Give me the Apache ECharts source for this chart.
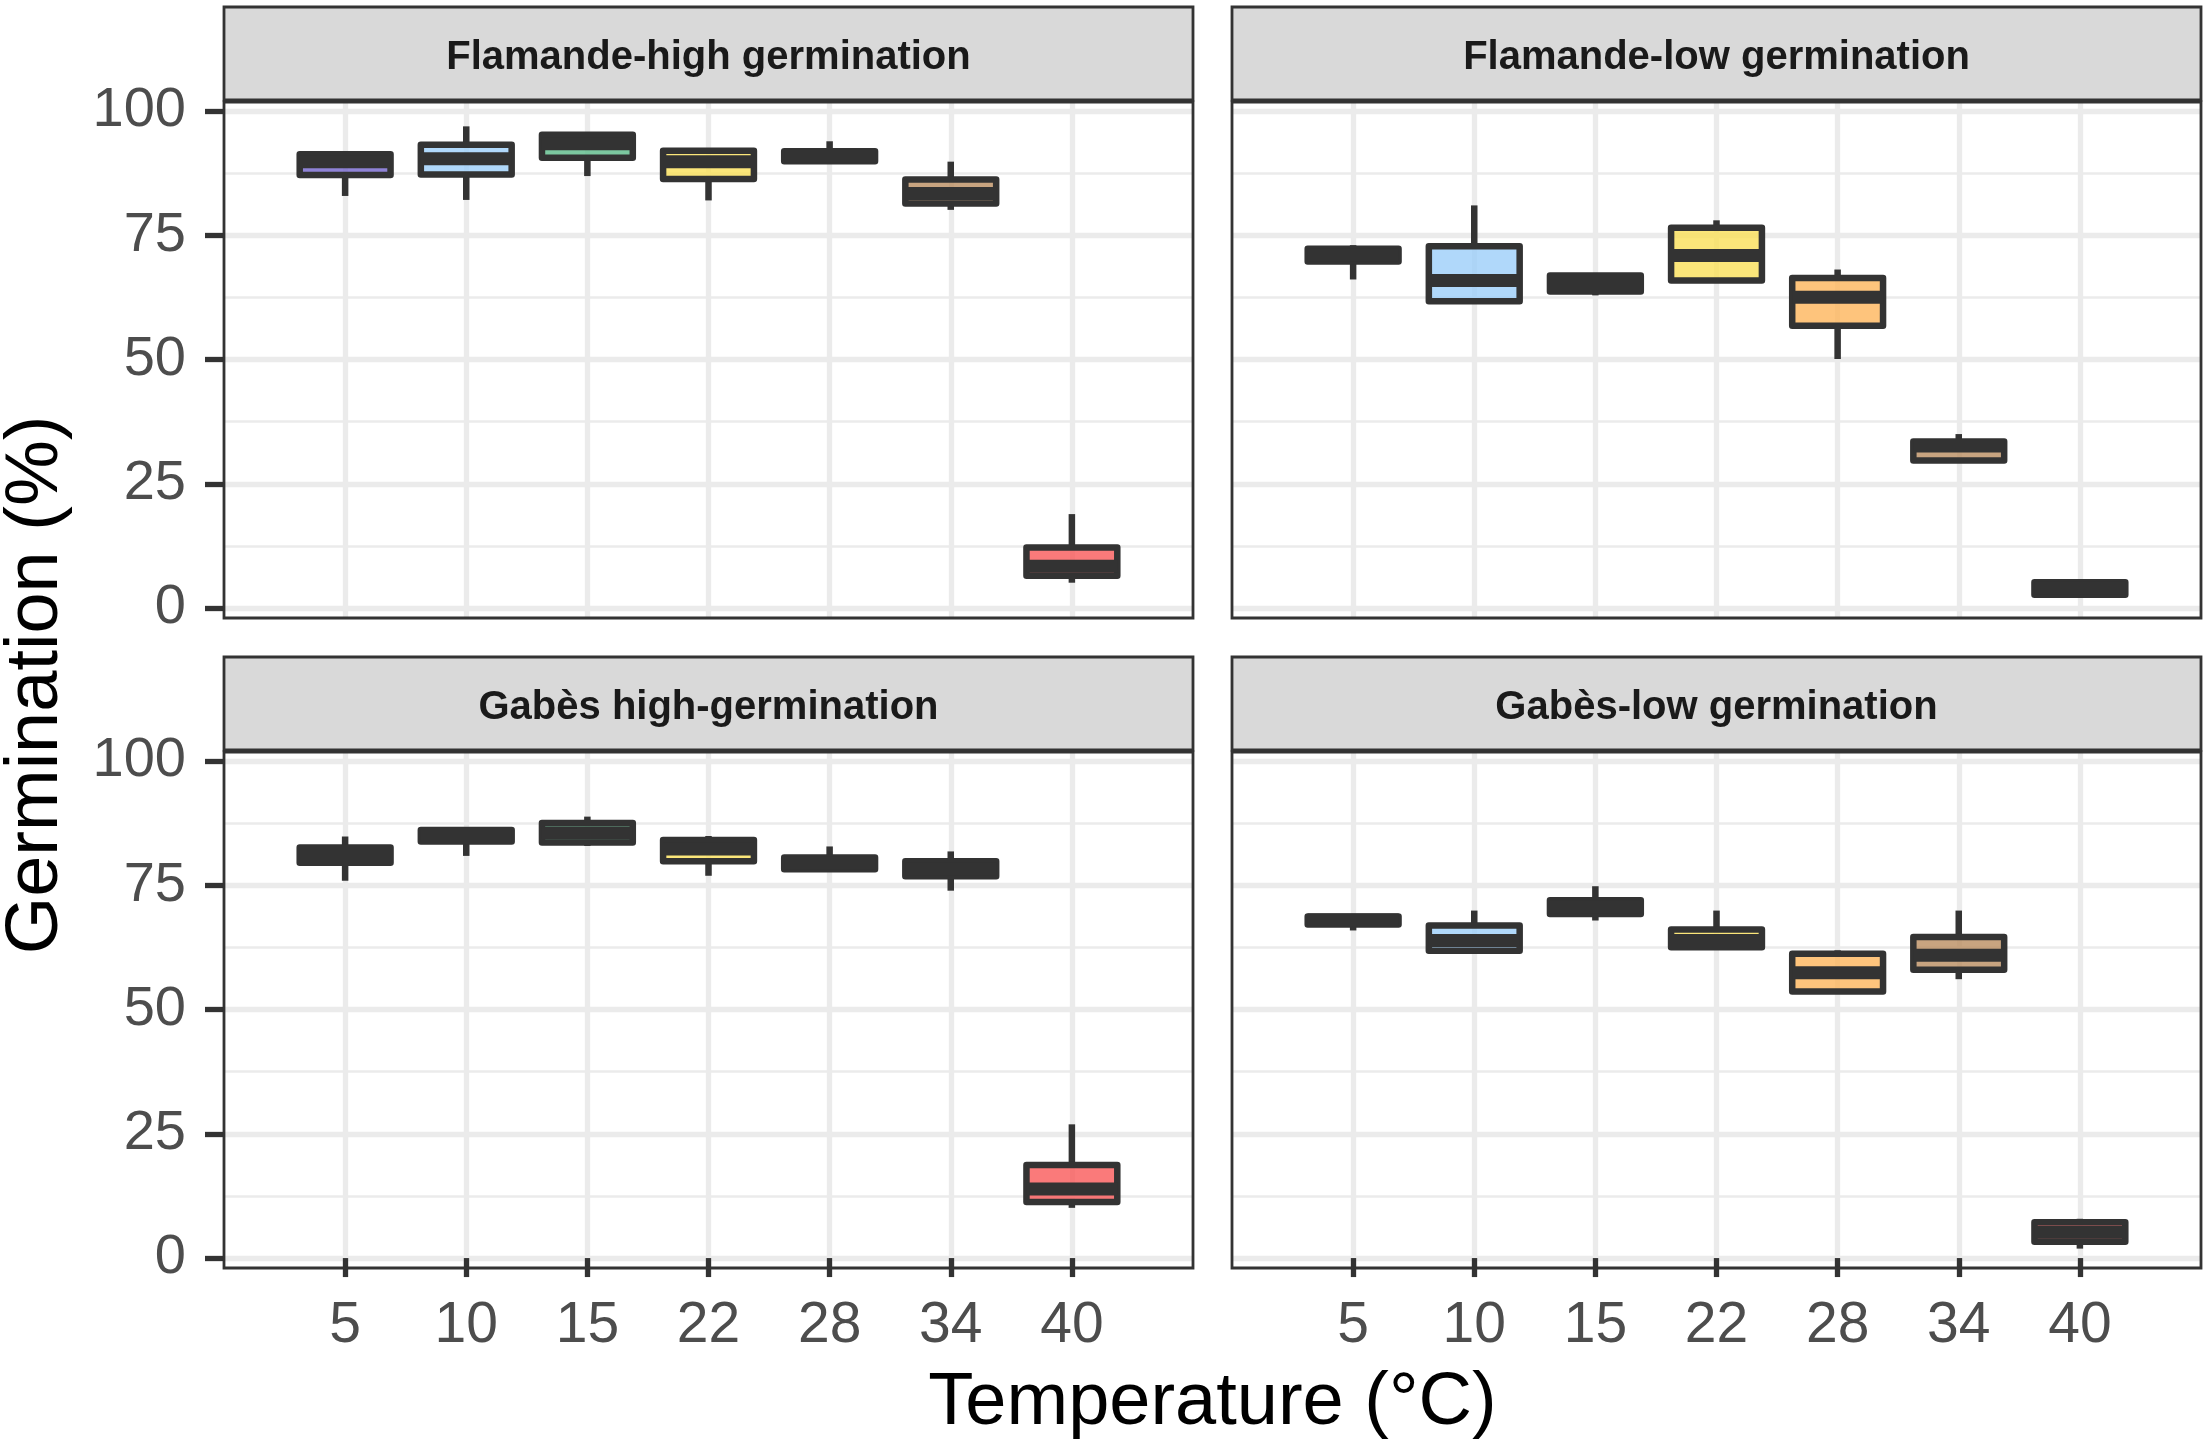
<!DOCTYPE html>
<html>
<head>
<meta charset="utf-8">
<title>Germination by temperature</title>
<script src="https://cdn.jsdelivr.net/npm/echarts@6/dist/echarts.min.js"></script>
<style>
  html, body { margin: 0; padding: 0; background: #ffffff; }
  #chart { width: 2208px; height: 1452px; }
</style>
</head>
<body>
<div id="chart"></div>
<script>
// categories and tick values
const temperatures = ["5", "10", "15", "22", "28", "34", "40"];
const yTicks = [0, 25, 50, 75, 100];
const yMinorTicks = [12.5, 37.5, 62.5, 87.5];
const panelTitles = [
  "Flamande-high germination",
  "Flamande-low germination",
  "Gabès high-germination",
  "Gabès-low germination",
];

// box statistics (min, Q1, median, Q3, max)
const flamandeHighMin = [82.9, 82.1, 86.9, 82.0, 89.9, 80.1, 5.1];
const flamandeHighQ1 = [87.1, 87.2, 90.6, 86.3, 89.9, 81.4, 6.5];
const flamandeHighMedian = [89.8, 90.4, 93.4, 89.8, 90.9, 83.4, 8.4];
const flamandeHighQ3 = [91.3, 93.2, 95.2, 92.0, 91.9, 86.2, 12.2];
const flamandeHighMax = [91.3, 96.9, 95.5, 92.0, 93.9, 89.8, 18.9];

const flamandeLowMin = [66.1, 61.7, 62.9, 65.9, 50.1, 29.7, 2.7];
const flamandeLowQ1 = [69.7, 61.7, 63.7, 65.9, 56.8, 29.7, 2.7];
const flamandeLowMedian = [71.0, 65.9, 65.3, 70.9, 62.5, 32.6, 4.0];
const flamandeLowQ3 = [72.3, 72.8, 66.9, 76.5, 66.4, 33.5, 5.2];
const flamandeLowMax = [73.0, 81.0, 66.9, 78.0, 68.1, 35.0, 5.2];

const gabesHighMin = [75.9, 80.9, 82.9, 76.9, 78.2, 73.9, 10.1];
const gabesHighQ1 = [79.5, 83.8, 83.6, 79.8, 78.2, 76.8, 11.3];
const gabesHighMedian = [81.0, 85.0, 85.5, 82.3, 79.4, 78.3, 13.9];
const gabesHighQ3 = [82.6, 86.1, 87.5, 84.1, 80.6, 79.8, 18.7];
const gabesHighMax = [84.8, 86.1, 88.8, 84.9, 82.8, 81.8, 26.9];

const gabesLowMin = [65.9, 61.8, 67.9, 62.5, 53.6, 56.1, 1.9];
const gabesLowQ1 = [67.1, 61.8, 69.2, 62.5, 53.6, 58.0, 3.3];
const gabesLowMedian = [68.0, 63.9, 70.6, 63.9, 57.4, 60.9, 5.2];
const gabesLowQ3 = [68.7, 66.9, 72.0, 66.1, 61.2, 64.6, 7.2];
const gabesLowMax = [68.7, 69.9, 74.8, 69.9, 61.9, 69.9, 7.9];

// one fill per temperature
const boxColors = [
  "rgba(115, 100, 204, 0.8)",
  "rgba(156, 206, 249, 0.8)",
  "rgba(91, 186, 136, 0.8)",
  "rgba(250, 224, 89, 0.8)",
  "rgba(254, 181, 91, 0.8)",
  "rgba(186, 141, 96, 0.8)",
  "rgba(249, 89, 89, 0.8)",
];

const panelStats = [
  [flamandeHighMin, flamandeHighQ1, flamandeHighMedian, flamandeHighQ3, flamandeHighMax],
  [flamandeLowMin, flamandeLowQ1, flamandeLowMedian, flamandeLowQ3, flamandeLowMax],
  [gabesHighMin, gabesHighQ1, gabesHighMedian, gabesHighQ3, gabesHighMax],
  [gabesLowMin, gabesLowQ1, gabesLowMedian, gabesLowQ3, gabesLowMax],
];

// empty slot at each end gives ggplot-like padding
const xSlots = [""].concat(temperatures, [""]);

const FONT = "'Liberation Sans', Arial, Helvetica, sans-serif";
const DARK = "#333333";
const GRID_LINE = "#ebebeb";
const panelLefts = [224, 1232];
const panelTops = [102, 752];
const panelWidth = 969;
const panelHeight = 516;
const stripHeight = 93;

function isInnerSlot(index) {
  return index > 0 && index < xSlots.length - 1;
}

function renderBox(params, api) {
  const x = api.value(0);
  const low = api.coord([x, api.value(1)]);
  const q1 = api.coord([x, api.value(2)]);
  const med = api.coord([x, api.value(3)]);
  const q3 = api.coord([x, api.value(4)]);
  const high = api.coord([x, api.value(5)]);
  const half = api.size([1, 0])[0] * 0.375;
  return {
    type: "group",
    children: [
      {
        type: "line",
        shape: { x1: high[0], y1: high[1], x2: q3[0], y2: q3[1] },
        style: { stroke: DARK, lineWidth: 6.5 },
      },
      {
        type: "line",
        shape: { x1: q1[0], y1: q1[1], x2: low[0], y2: low[1] },
        style: { stroke: DARK, lineWidth: 6.5 },
      },
      {
        type: "rect",
        shape: { x: q3[0] - half, y: q3[1], width: half * 2, height: q1[1] - q3[1] },
        style: { fill: api.visual("color"), stroke: DARK, lineWidth: 6.5, lineJoin: "round" },
      },
      {
        type: "line",
        shape: { x1: med[0] - half, y1: med[1], x2: med[0] + half, y2: med[1] },
        style: { stroke: DARK, lineWidth: 13 },
      },
    ],
  };
}

const grids = [];
const xAxes = [];
const yAxes = [];
const series = [];
const graphics = [];

panelStats.forEach(function (stats, p) {
  const col = p % 2;
  const row = Math.floor(p / 2);
  const left = panelLefts[col];
  const top = panelTops[row];
  const isBottom = row === 1;
  const isLeft = col === 0;

  grids.push({
    left: left,
    top: top,
    width: panelWidth,
    height: panelHeight,
    show: true,
    z: 1,
    backgroundColor: "transparent",
    borderColor: DARK,
    borderWidth: 2.8,
  });

  xAxes.push({
    type: "category",
    gridIndex: p,
    data: xSlots,
    boundaryGap: false,
    axisLine: { show: false },
    axisTick: {
      show: isBottom,
      interval: isInnerSlot,
      length: 19,
      lineStyle: { color: DARK, width: 5.3 },
    },
    axisLabel: {
      show: isBottom,
      interval: 0,
      margin: 30,
      fontSize: 57,
      fontFamily: FONT,
      color: "#4d4d4d",
    },
    splitLine: {
      show: true,
      interval: isInnerSlot,
      lineStyle: { color: GRID_LINE, width: 5.3 },
    },
  });

  yAxes.push({
    type: "value",
    gridIndex: p,
    min: -2,
    max: 101.8,
    axisLine: { show: false },
    axisTick: {
      show: isLeft,
      customValues: yTicks,
      length: 19,
      lineStyle: { color: DARK, width: 5.3 },
    },
    axisLabel: {
      show: isLeft,
      customValues: yTicks,
      margin: 38,
      fontSize: 56,
      fontFamily: FONT,
      color: "#4d4d4d",
    },
    splitLine: { show: true, lineStyle: { color: GRID_LINE, width: 5.3 } },
  });

  // minor horizontal grid lines
  yAxes.push({
    type: "value",
    gridIndex: p,
    position: "right",
    min: -2,
    max: 101.8,
    axisLine: { show: false },
    axisTick: { show: false, customValues: yMinorTicks },
    axisLabel: { show: false, customValues: yMinorTicks },
    splitLine: { show: true, lineStyle: { color: GRID_LINE, width: 2.7 } },
  });

  const boxData = temperatures.map(function (t, i) {
    return {
      value: [i + 1, stats[0][i], stats[1][i], stats[2][i], stats[3][i], stats[4][i]],
      itemStyle: { color: boxColors[i] },
    };
  });

  series.push({
    type: "custom",
    name: panelTitles[p],
    xAxisIndex: p,
    yAxisIndex: p * 2,
    renderItem: renderBox,
    encode: { x: 0, y: [1, 2, 3, 4, 5] },
    data: boxData,
    silent: true,
    z: 3,
  });

  // facet strip
  graphics.push({
    type: "rect",
    z: 10,
    shape: { x: left, y: top - 2 - stripHeight, width: panelWidth, height: stripHeight },
    style: { fill: "#d9d9d9", stroke: DARK, lineWidth: 2.8 },
  });
  graphics.push({
    type: "text",
    z: 11,
    x: left + panelWidth / 2,
    y: top - 2 - stripHeight / 2 + 4,
    style: {
      text: panelTitles[p],
      fontSize: 40,
      fontWeight: "bold",
      fontFamily: FONT,
      fill: "#1a1a1a",
      align: "center",
      verticalAlign: "middle",
    },
  });
});

graphics.push({
  type: "text",
  x: (panelLefts[0] + panelLefts[1] + panelWidth) / 2,
  y: 1404,
  style: {
    text: "Temperature (°C)",
    fontSize: 74,
    fontFamily: FONT,
    fill: "#000000",
    align: "center",
    verticalAlign: "middle",
  },
});
graphics.push({
  type: "text",
  x: 37,
  y: (panelTops[0] + panelTops[1] + panelHeight) / 2,
  rotation: Math.PI / 2,
  style: {
    text: "Germination (%)",
    fontSize: 74,
    fontFamily: FONT,
    fill: "#000000",
    align: "center",
    verticalAlign: "middle",
  },
});

const chart = echarts.init(document.getElementById("chart"));
chart.setOption({
  animation: false,
  backgroundColor: "#ffffff",
  grid: grids,
  xAxis: xAxes,
  yAxis: yAxes,
  series: series,
  graphic: { elements: graphics },
});
window.addEventListener("resize", function () {
  chart.resize();
});
</script>
</body>
</html>
